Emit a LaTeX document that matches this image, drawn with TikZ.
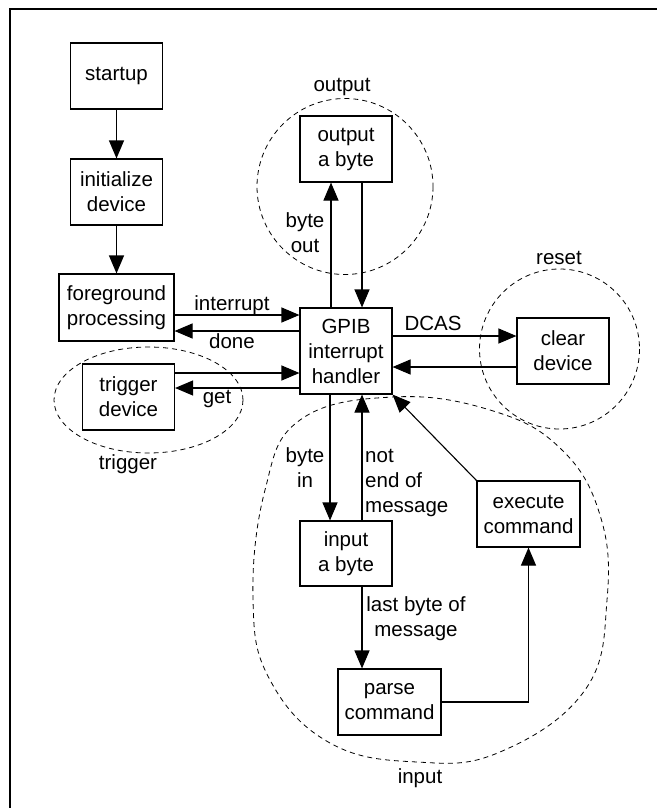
\documentclass[tikz,border=0pt]{standalone}
\usepackage{fontspec}
\setmainfont{Liberation Sans}
\usetikzlibrary{arrows.meta}

\tikzset{
  box/.style={draw, line width=1.1pt, minimum width=92pt, minimum height=66pt, inner sep=5pt, align=center},
  arr/.style={line width=1.1pt, -{Triangle[length=18pt,width=15pt]}},
  zone/.style={draw, dash pattern=on 5pt off 4pt, line width=0.8pt},
  lbl/.style={inner sep=0pt, align=center}
}

\begin{document}
\begin{tikzpicture}[x=1pt,y=-1pt,font=\fontsize{20.5pt}{25pt}\selectfont]
\useasboundingbox (0,0) rectangle (657,808);
\draw[line width=2pt] (10,808) -- (10,9) -- (657,9);

\draw[zone] (345,186.5) circle (88);
\draw[zone] (559.5,349) circle (80);
\draw[zone] (148.5,400) ellipse (94.5 and 53);
\draw[zone] plot[smooth cycle, tension=0.7] coordinates {(393,397) (490,410) (560,448) (600,515) (607,600) (585,690) (500,752) (417,762) (330,743) (270,680) (253,600) (265,490) (300,420)};

\node[box] (startup) at (116.5,76) {startup};
\node[box] (init) at (116.5,192) {initialize\\device};
\node[box, minimum width=115pt, minimum height=67pt] (fg) at (116.5,307.5) {foreground\\processing};
\node[box] (trig) at (128.5,397) {trigger\\device};
\node[box] (out) at (346,149) {output\\a byte};
\node[box, minimum height=86pt] (gpib) at (346,351) {GPIB\\interrupt\\handler};
\node[box] (clear) at (563,351) {clear\\device};
\node[box, minimum height=65pt] (in) at (346,553.5) {input\\a byte};
\node[box, minimum width=103pt] (parse) at (389.5,702) {parse\\command};
\node[box, minimum width=103pt] (exec) at (528.5,514) {execute\\command};

\node[lbl, anchor=base] (loutput) at (342,92) {output};
\node[lbl, anchor=base] (lreset) at (559,264) {reset};
\node[lbl, anchor=base] (ltrigger) at (128,469) {trigger};
\node[lbl, anchor=base] (linput) at (420,783) {input};
\node[lbl, anchor=base] (linterrupt) at (232,310) {interrupt};
\node[lbl, anchor=base] (ldone) at (232,348) {done};
\node[lbl, anchor=base] (lget) at (217,403) {get};
\node[lbl, anchor=base] (ldcas) at (433,330) {DCAS};
\node[lbl] (lbyteout) at (305,233) {byte\\out};
\node[lbl] (lbytein) at (305,468) {byte\\in};
\node[lbl, align=left, anchor=west] (lnotend) at (365,482.5) {not\\end of\\message};
\node[lbl] (llast) at (416,619) {last byte of\\message};

\draw[arr] (startup) -- (init);
\draw[arr] (init) -- (fg);
\draw[arr] ([yshift=-7.5pt]fg.east) -- ([yshift=-7.5pt]fg.east -| gpib.west);
\draw[arr] ([yshift=-23.5pt]fg.east -| gpib.west) -- ([yshift=-23.5pt]fg.east);
\draw[arr] ([yshift=24pt]trig.east) -- ([yshift=24pt]trig.east -| gpib.west);
\draw[arr] ([yshift=9pt]trig.east -| gpib.west) -- ([yshift=9pt]trig.east);
\draw[arr] ([xshift=-15pt]gpib.north) -- ([xshift=-15pt]out.south);
\draw[arr] ([xshift=16pt]out.south) -- ([xshift=16pt]gpib.north);
\draw[arr] ([yshift=15pt]gpib.east) -- ([yshift=15pt]gpib.east -| clear.west);
\draw[arr] ([yshift=-16pt]gpib.east -| clear.west) -- ([yshift=-16pt]gpib.east);
\draw[arr] ([xshift=-16pt]gpib.south) -- ([xshift=-16pt]in.north);
\draw[arr] ([xshift=16pt]in.north) -- ([xshift=16pt]gpib.south);
\draw[arr] ([xshift=16pt]in.south) -- ([xshift=16pt]in.south |- parse.north);
\draw[arr] (parse.east) -| (exec.south);
\draw[arr] (exec.north west) -- (gpib.south east);

\end{tikzpicture}
\end{document}
